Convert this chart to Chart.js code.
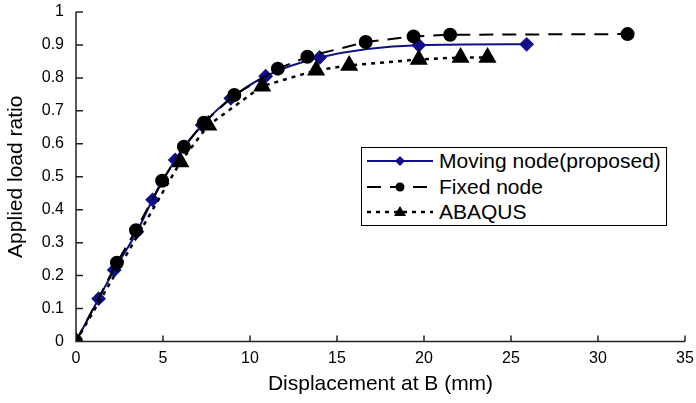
<!DOCTYPE html>
<html>
<head>
<meta charset="utf-8">
<script src="https://cdn.jsdelivr.net/npm/chart.js@4/dist/chart.umd.min.js"></script>
<style>
  html, body { margin: 0; padding: 0; background: #fff; }
  #wrap { position: relative; width: 696px; height: 403px; }
  #legend { position: absolute; left: 361px; top: 147px; width: 306px; height: 79px;
            border: 1px solid #000; background: #fff; box-sizing: border-box;
            font-family: "Liberation Sans", Arial, sans-serif; font-size: 21px; color: #000; }
  .row { position: absolute; left: 0; height: 26px; line-height: 26px; white-space: nowrap; }
  .row svg { position: absolute; left: 3px; top: 0; }
  .row span { position: absolute; left: 77px; top: 0; }
</style>
</head>
<body>
<div id="wrap">
  <canvas id="c" width="696" height="403"></canvas>
  <div id="legend">
    <div class="row" style="top:0px">
      <svg width="70" height="26"><line x1="2" y1="13" x2="68" y2="13" stroke="#10108a" stroke-width="2"/><polygon points="35,8 40,13 35,18 30,13" fill="#10108a"/></svg>
      <span>Moving node(proposed)</span>
    </div>
    <div class="row" style="top:26px">
      <svg width="70" height="26"><line x1="2" y1="13" x2="68" y2="13" stroke="#000" stroke-width="2" stroke-dasharray="14,9"/><circle cx="35" cy="13" r="4.5" fill="#000"/></svg>
      <span>Fixed node</span>
    </div>
    <div class="row" style="top:51px">
      <svg width="70" height="26"><line x1="2" y1="13" x2="68" y2="13" stroke="#000" stroke-width="2.5" stroke-dasharray="4,5"/><polygon points="35,7 41,17 29,17" fill="#000"/></svg>
      <span>ABAQUS</span>
    </div>
  </div>
</div>
<script>
const movingX = [0, 1.3, 2.2, 3.5, 4.4, 5.7, 7.25, 8.9, 10.9, 14.0, 19.7, 25.9];
const movingY = [0, 0.13, 0.217, 0.333, 0.43, 0.551, 0.657, 0.738, 0.805, 0.862, 0.899, 0.902];
const fixedX = [0, 2.35, 3.45, 4.95, 6.2, 7.35, 9.1, 11.6, 13.3, 16.65, 19.4, 21.5, 31.7];
const fixedY = [0, 0.239, 0.338, 0.488, 0.591, 0.664, 0.748, 0.828, 0.864, 0.909, 0.926, 0.931, 0.933];
const abaqusX = [0, 6.0, 7.6, 10.7, 13.8, 15.7, 19.7, 22.1, 23.65];
const abaqusY = [0, 0.545, 0.656, 0.775, 0.823, 0.838, 0.856, 0.862, 0.862];
const xTickLabels = ['0', '5', '10', '15', '20', '25', '30', '35'];
const yTickLabels = ['0', '0.1', '0.2', '0.3', '0.4', '0.5', '0.6', '0.7', '0.8', '0.9', '1'];

const pts = (xs, ys) => xs.map((x, i) => ({ x: x, y: ys[i] }));
const FONT = '"Liberation Sans", Arial, sans-serif';

const innerTicks = {
  id: 'innerTicks',
  afterDraw(chart) {
    const ctx = chart.ctx, xs = chart.scales.x, ys = chart.scales.y;
    const a = chart.chartArea;
    ctx.save();
    ctx.strokeStyle = '#222';
    ctx.lineWidth = 1.5;
    ctx.beginPath();
    ctx.moveTo(a.left, a.top); ctx.lineTo(a.left, a.bottom); ctx.lineTo(a.right, a.bottom);
    xs.ticks.forEach(t => { const px = xs.getPixelForValue(t.value); ctx.moveTo(px, a.bottom); ctx.lineTo(px, a.bottom - 6); });
    ys.ticks.forEach(t => { const py = ys.getPixelForValue(t.value); ctx.moveTo(a.left, py); ctx.lineTo(a.left + 7, py); });
    ctx.stroke();
    ctx.restore();
  }
};

new Chart(document.getElementById('c'), {
  type: 'scatter',
  data: {
    datasets: [
      { label: 'Moving node(proposed)', data: pts(movingX, movingY), showLine: true,
        borderColor: '#10108a', backgroundColor: '#10108a', borderWidth: 2,
        pointStyle: 'rectRot', pointRadius: 6, pointHoverRadius: 6, tension: 0.3, cubicInterpolationMode: 'monotone', order: 3 },
      { label: 'Fixed node', data: pts(fixedX, fixedY), showLine: true,
        borderColor: '#000', backgroundColor: '#000', borderWidth: 2, borderDash: [14, 9],
        pointStyle: 'circle', pointRadius: 6, pointHoverRadius: 6, tension: 0, order: 1 },
      { label: 'ABAQUS', data: pts(abaqusX, abaqusY), showLine: true,
        borderColor: '#000', backgroundColor: '#000', borderWidth: 2.5, borderDash: [4, 5],
        pointStyle: 'triangle', pointRadius: 8, pointHoverRadius: 8, tension: 0, order: 2 }
    ]
  },
  options: {
    responsive: false,
    animation: false,
    events: [],
    layout: { padding: { top: 12, right: 11, left: 0, bottom: 0 } },
    plugins: { legend: { display: false }, tooltip: { enabled: false } },
    scales: {
      x: {
        type: 'linear', min: 0, max: 35,
        grid: { display: false, drawTicks: false },
        border: { display: false },
        ticks: { stepSize: 5, padding: 7, color: '#000', font: { family: FONT, size: 16 },
                 maxRotation: 0, callback: (v, i) => xTickLabels[i] },
        title: { display: true, text: 'Displacement at B (mm)', color: '#000',
                 font: { family: FONT, size: 21 }, padding: { top: 2, bottom: 6 } },
        afterFit: s => { s.height = 61.5; s.paddingLeft = 0; s.paddingRight = 0; }
      },
      y: {
        type: 'linear', min: 0, max: 1,
        grid: { display: false, drawTicks: false },
        border: { display: false },
        ticks: { stepSize: 0.1, padding: 12, color: '#000', font: { family: FONT, size: 16 },
                 callback: (v, i) => yTickLabels[i] },
        title: { display: true, text: 'Applied load ratio', color: '#000',
                 font: { family: FONT, size: 21 }, padding: { top: 4, bottom: 2 } },
        afterFit: s => { s.width = 76; s.paddingTop = 0; s.paddingBottom = 0; }
      }
    }
  },
  plugins: [innerTicks]
});
</script>
</body>
</html>
